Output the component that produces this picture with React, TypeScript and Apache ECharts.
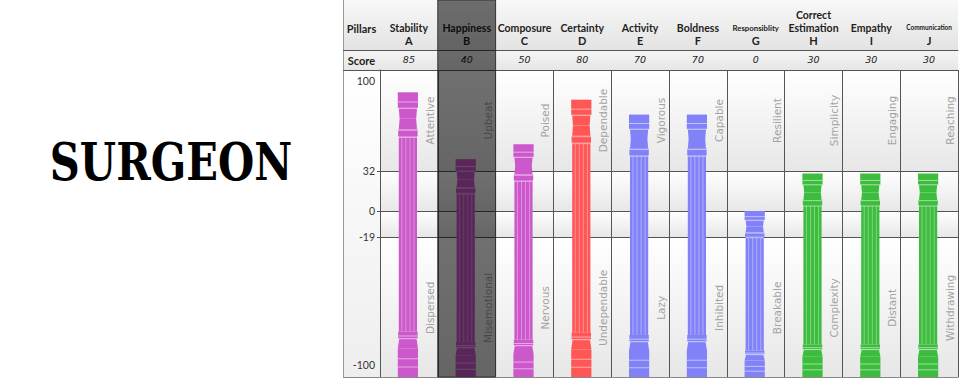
import React, { useEffect, useRef } from 'react';
import * as echarts from 'echarts';

// ---------- data ----------
const pillars = ['Stability', 'Happiness', 'Composure', 'Certainty', 'Activity', 'Boldness', 'Responsiblity', 'Correct Estimation', 'Empathy', 'Communication'];
const letters = ['A', 'B', 'C', 'D', 'E', 'F', 'G', 'H', 'I', 'J'];
const scores = [85, 40, 50, 80, 70, 70, 0, 30, 30, 30];
const topTraits = ['Attentive', 'Upbeat', 'Poised', 'Dependable', 'Vigorous', 'Capable', 'Resilient', 'Simplicity', 'Engaging', 'Reaching'];
const bottomTraits = ['Dispersed', 'Misemotional', 'Nervous', 'Undependable', 'Lazy', 'Inhibited', 'Breakable', 'Complexity', 'Distant', 'Withdrawing'];
const yTicks = [-100, -19, 0, 32, 100];
const highlighted = ['Happiness'];
const profession = 'SURGEON';

// ---------- axis scale configuration (non-linear axis: relative spacing of ticks) ----------
const yStops = [0, 140, 166, 206, 307];
const TOP_TRAIT_AT = 66;
const BOTTOM_TRAIT_AT = -60;

// ---------- styles ----------
const pillarColors = ['#cc58cc', '#cc58cc', '#cc58cc', '#ff5656', '#8282f8', '#8282f8', '#8282f8', '#3dbd3d', '#3dbd3d', '#3dbd3d'];
const HEADER_H = 70;
const LINE = '#555555';

function toAxis(v: number): number {
  for (let i = 0; i < yTicks.length - 1; i++) {
    if (v <= yTicks[i + 1] || i === yTicks.length - 2) {
      const t = (v - yTicks[i]) / (yTicks[i + 1] - yTicks[i]);
      return yStops[i] + t * (yStops[i + 1] - yStops[i]);
    }
  }
  return 0;
}

const vGrad = (c0: string, c1: string) => ({
  type: 'linear', x: 0, y: 0, x2: 0, y2: 1,
  colorStops: [{ offset: 0, color: c0 }, { offset: 1, color: c1 }],
});

function renderPillar(params: any, api: any) {
  const i = api.value(0);
  const topPt = api.coord([i, api.value(1)]);
  const botPt = api.coord([i, 0]);
  const band = api.size([1, 0])[0];
  const colX = topPt[0];
  const cx = colX - 1;
  const W = band * 0.35;
  const top = topPt[1];
  const bottom = botPt[1];
  const h = bottom - top;
  const color = pillarColors[i];
  const cap = h * 0.155;
  const base = h * 0.16;
  const light = 'rgba(255,255,255,0.5)';
  const children: any[] = [];
  const rect = (w: number, y0: number, y1: number) => children.push({
    type: 'rect', shape: { x: cx - w / 2, y: y0, width: w, height: y1 - y0 }, style: { fill: color },
  });
  const poly = (w0: number, w1: number, y0: number, y1: number) => children.push({
    type: 'polygon',
    shape: { points: [[cx - w0 / 2, y0], [cx + w0 / 2, y0], [cx + w1 / 2, y1], [cx - w1 / 2, y1]] },
    style: { fill: color },
  });
  const hline = (w: number, y: number) => children.push({
    type: 'line', shape: { x1: cx - w / 2, y1: y, x2: cx + w / 2, y2: y }, style: { stroke: light, lineWidth: 1 },
  });
  // capital
  rect(W, top, top + cap * 0.36);
  poly(W * 0.9, W * 0.82, top + cap * 0.36, top + cap * 0.6);
  poly(W * 0.82, W * 0.9, top + cap * 0.6, top + cap * 0.84);
  rect(W * 0.96, top + cap * 0.84, top + cap);
  // shaft
  rect(W * 0.9, top + cap, bottom - base);
  // base
  rect(W * 0.96, bottom - base, bottom - base * 0.84);
  poly(W * 0.86, W, bottom - base * 0.84, bottom - base * 0.62);
  rect(W, bottom - base * 0.62, bottom);
  // decoration lines
  hline(W, top + cap * 0.22);
  hline(W, top + cap * 0.36);
  hline(W * 0.96, top + cap * 0.86);
  hline(W * 0.9, top + cap + 1);
  hline(W * 0.96, bottom - base * 0.84);
  hline(W * 0.96, bottom - base * 0.9);
  hline(W, bottom - base * 0.4);
  hline(W, bottom - base * 0.22);
  for (const k of [-0.3, -0.1, 0.1, 0.3]) {
    children.push({
      type: 'line',
      shape: { x1: cx + k * W, y1: top + cap + 1, x2: cx + k * W, y2: bottom - base },
      style: { stroke: 'rgba(255,255,255,0.35)', lineWidth: 1 },
    });
  }
  // trait labels
  const lx = colX + band * 0.36;
  const ty = api.coord([i, toAxis(TOP_TRAIT_AT)])[1];
  const by = api.coord([i, toAxis(BOTTOM_TRAIT_AT)])[1];
  const traitStyle = (text: string) => ({
    text, fill: '#a3a3a3', font: '10.5px "DejaVu Sans"',
    align: 'center', verticalAlign: 'middle', textAlign: 'center', textVerticalAlign: 'middle',
  });
  children.push({ type: 'text', x: lx, y: ty, rotation: Math.PI / 2, style: traitStyle(topTraits[i]) });
  children.push({ type: 'text', x: lx, y: by, rotation: Math.PI / 2, style: traitStyle(bottomTraits[i]) });
  return { type: 'group', children };
}

function renderHighlight(params: any, api: any) {
  const i = api.value(0);
  const p = api.coord([i, 0]);
  const bw = api.size([1, 0])[0];
  const cs = params.coordSys;
  return {
    type: 'rect',
    shape: { x: p[0] - bw / 2, y: cs.y - HEADER_H, width: bw, height: cs.height + HEADER_H },
    style: { fill: 'rgba(0,0,0,0.56)', stroke: '#333333', lineWidth: 1 },
  };
}

const headerKey = (name: string) => (name === 'Responsiblity' ? 's' : name === 'Communication' ? 'xs' : 'n');

export default function App() {
  const ref = useRef<HTMLDivElement>(null);
  useEffect(() => {
    if (!ref.current) return;
    const chart = echarts.init(ref.current, undefined, { renderer: 'svg' });
    const tickStops = yTicks.map(toAxis);
    const option: any = {
      animation: false,
      backgroundColor: '#ffffff',
      grid: { left: 380, right: 2, top: HEADER_H, bottom: 3, containLabel: false, outerBoundsMode: 'none' },
      xAxis: [
        {
          type: 'category',
          data: pillars,
          position: 'top',
          boundaryGap: true,
          axisLine: { show: true, lineStyle: { color: LINE, width: 1 } },
          axisTick: { show: true, length: HEADER_H, inside: false, alignWithLabel: false, lineStyle: { color: LINE, width: 1 } },
          axisLabel: {
            interval: 0,
            margin: 6,
            formatter: (_v: string, idx: number) => String(scores[idx]),
            fontFamily: '"DejaVu Sans"', fontStyle: 'italic', fontSize: 9.5, color: '#222',
          },
          splitLine: { show: true, interval: 0, lineStyle: { color: LINE, width: 1 } },
        },
        {
          type: 'category',
          data: pillars,
          position: 'top',
          offset: 20,
          boundaryGap: true,
          axisLine: { show: true, lineStyle: { color: LINE, width: 1 } },
          axisTick: { show: false },
          axisLabel: {
            interval: 0,
            margin: 3,
            formatter: (v: string, idx: number) => {
              const k = headerKey(v);
              return v.split(' ').map((w) => `{${k}|${w}}`).join('\n') + `\n{l|${letters[idx]}}`;
            },
            rich: {
              n: { fontFamily: 'Lato', fontWeight: 'bold', fontSize: 10.5, color: '#222', lineHeight: 13 },
              s: { fontFamily: 'Lato', fontWeight: 'bold', fontSize: 7.8, color: '#222', lineHeight: 13 },
              xs: { fontFamily: 'Lato', fontWeight: 'bold', fontSize: 6.5, color: '#222', lineHeight: 13 },
              l: { fontFamily: 'Lato', fontWeight: 'bold', fontSize: 11, color: '#222', lineHeight: 13 },
            },
          },
          splitLine: { show: false },
        },
      ],
      yAxis: {
        type: 'value',
        min: yStops[0],
        max: yStops[yStops.length - 1],
        axisLine: { show: true, lineStyle: { color: LINE, width: 1 } },
        axisTick: { show: true, length: 3, customValues: tickStops, lineStyle: { color: LINE } },
        axisLabel: {
          customValues: tickStops,
          margin: 5,
          formatter: (val: number) => {
            const idx = tickStops.findIndex((s) => Math.abs(s - val) < 0.01);
            const lab = idx >= 0 ? String(yTicks[idx]) : '';
            if (idx === yTicks.length - 1) return `{t|${lab}}`;
            if (idx === 0) return `{b|${lab}}`;
            return `{m|${lab}}`;
          },
          rich: {
            t: { fontFamily: 'Lato', fontSize: 10.5, color: '#333', lineHeight: 13, padding: [22, 0, 0, 0] },
            b: { fontFamily: 'Lato', fontSize: 10.5, color: '#333', lineHeight: 13, padding: [0, 0, 24, 0] },
            m: { fontFamily: 'Lato', fontSize: 10.5, color: '#333', lineHeight: 13 },
          },
        },
        splitLine: { show: true, lineStyle: { color: LINE, width: 1 } },
        splitArea: { show: true, areaStyle: { color: [vGrad('#ffffff', '#e7e7e7')] } },
      },
      graphic: [
        { type: 'rect', z: -10, shape: { x: 343, y: 0, width: 615, height: 50 }, style: { fill: vGrad('#f8f8f8', '#e3e3e3') } },
        { type: 'rect', z: -10, shape: { x: 343, y: 50, width: 615, height: 20 }, style: { fill: vGrad('#f5f5f5', '#e6e6e6') } },
        { type: 'rect', z: -10, shape: { x: 343, y: 70, width: 37, height: 307 }, style: { fill: vGrad('#ffffff', '#eeeeee') } },
        { type: 'line', z: 5, shape: { x1: 343.5, y1: 0, x2: 343.5, y2: 377 }, style: { stroke: '#999999', lineWidth: 1 } },
        { type: 'line', z: 5, shape: { x1: 343, y1: 50.5, x2: 380, y2: 50.5 }, style: { stroke: LINE, lineWidth: 1 } },
        { type: 'line', z: 5, shape: { x1: 343, y1: 70.5, x2: 380, y2: 70.5 }, style: { stroke: LINE, lineWidth: 1 } },
        { type: 'line', z: 5, shape: { x1: 343, y1: 377.5, x2: 958, y2: 377.5 }, style: { stroke: '#888888', lineWidth: 1 } },
        {
          type: 'text', z: 5, x: 361.5, y: 28,
          style: { text: 'Pillars', font: 'bold 11px Lato', fill: '#222', textAlign: 'center', textVerticalAlign: 'middle' },
        },
        {
          type: 'text', z: 5, x: 361.5, y: 60,
          style: { text: 'Score', font: 'bold 11px Lato', fill: '#222', textAlign: 'center', textVerticalAlign: 'middle' },
        },
        {
          type: 'text', z: 5, x: 171, y: 162, scaleX: 0.8,
          style: { text: profession, font: 'bold 52px "DejaVu Serif"', fill: '#000', textAlign: 'center', textVerticalAlign: 'middle' },
        },
      ],
      series: [
        {
          type: 'custom',
          name: 'pillars',
          xAxisIndex: 0,
          z: 3,
          silent: true,
          clip: false,
          data: scores.map((s, i) => [i, toAxis(s), s]),
          renderItem: renderPillar,
        },
        {
          type: 'custom',
          name: 'highlight',
          xAxisIndex: 0,
          z: 10,
          silent: true,
          clip: false,
          data: highlighted.map((n) => [pillars.indexOf(n), 0]),
          renderItem: renderHighlight,
        },
      ],
    };
    chart.setOption(option);
    return () => chart.dispose();
  }, []);
  return <div ref={ref} style={{ position: 'fixed', left: 0, top: 0, width: 960, height: 380 }} />;
}
